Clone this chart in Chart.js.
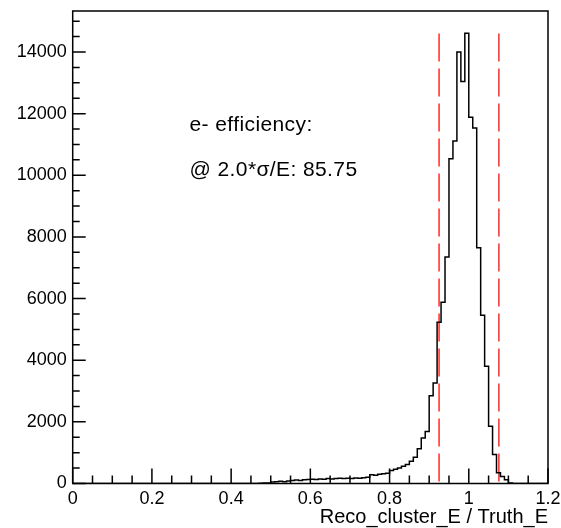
<!DOCTYPE html>
<html>
<head>
<meta charset="utf-8">
<script src="https://cdn.jsdelivr.net/npm/chart.js@4.4.1/dist/chart.umd.min.js"></script>
<style>
  body { margin: 0; background: #fff; }
  canvas { display: block; }
</style>
</head>
<body>
<canvas id="myChart" width="561" height="528"></canvas>
<script>
// histogram: 120 bins of 0.01 from 0 to 1.2
const xMin = 0;
const xMax = 1.2;
const binWidth = 0.01;
const counts = [
  0, 0, 0, 0, 0, 0, 0, 0, 0, 0,          // 0.00 - 0.10
  0, 0, 0, 0, 0, 0, 0, 0, 0, 0,          // 0.10 - 0.20
  0, 0, 0, 0, 0, 0, 0, 0, 0, 0,          // 0.20 - 0.30
  0, 0, 0, 0, 0, 0, 0, 0, 0, 0,          // 0.30 - 0.40
  0, 0, 0, 0, 0, 0, 0, 5, 15, 20,        // 0.40 - 0.50
  50, 60, 70, 60, 80, 100, 110, 100, 120, 130,       // 0.50 - 0.60
  140, 130, 150, 140, 160, 150, 160, 170, 160, 170,  // 0.60 - 0.70
  160, 180, 170, 190, 200, 280, 270, 300, 320, 330,  // 0.70 - 0.80
  420, 460, 500, 560, 620, 720, 850, 1130, 1480, 1690,        // 0.80 - 0.90
  2850, 3264, 5229, 5877, 7350, 10535, 11110, 14003, 13040, 14610, // 0.90 - 1.00
  11886, 11530, 7650, 5455, 3802, 1857, 940, 350, 230, 120,   // 1.00 - 1.10
  20, 0, 0, 0, 0, 0, 0, 0, 0, 0          // 1.10 - 1.20
];

const yMax = 15330;
const yTickValues = [0, 2000, 4000, 6000, 8000, 10000, 12000, 14000];
const xTickValues = [0, 0.2, 0.4, 0.6, 0.8, 1, 1.2];

// efficiency window (red dashed lines)
const effLow = 0.925;
const effHigh = 1.076;
const effTop = 14600;

const infoLines = ['e- efficiency:', '@ 2.0*\u03c3/E: 85.75'];
const xTitle = 'Reco_cluster_E / Truth_E';

const FONT = '"Liberation Sans", Arial, Helvetica, sans-serif';

// punti per la linea a gradini: ogni punto = bordo sinistro del bin
const histPoints = counts.map((c, i) => ({ x: xMin + i * binWidth, y: c }));
histPoints.push({ x: xMax, y: counts[counts.length - 1] });

// disegna cornice, tacche interne e testo
const frameTicks = {
  id: 'frameTicks',
  afterDraw(chart) {
    const { ctx, chartArea: a, scales: { x, y } } = chart;
    ctx.save();
    ctx.strokeStyle = '#000';
    ctx.lineWidth = 1.5;
    ctx.strokeRect(a.left, a.top, a.right - a.left, a.bottom - a.top);

    ctx.beginPath();
    for (let k = 0; k <= Math.round((xMax - xMin) / 0.05); k++) {
      const px = x.getPixelForValue(xMin + k * 0.05);
      const len = (k % 4 === 0) ? 15 : 8;
      ctx.moveTo(px, a.bottom);
      ctx.lineTo(px, a.bottom - len);
    }
    for (let v = 0; v <= yMax; v += 500) {
      const py = y.getPixelForValue(v);
      const len = (v % 2000 === 0) ? 13 : 7;
      ctx.moveTo(a.left, py);
      ctx.lineTo(a.left + len, py);
    }
    ctx.stroke();

    ctx.fillStyle = '#000';
    ctx.font = '21px ' + FONT;
    ctx.letterSpacing = '0.4px';
    ctx.textAlign = 'left';
    ctx.textBaseline = 'middle';
    ctx.fillText(infoLines[0], x.getPixelForValue(0.295), y.getPixelForValue(11620));
    ctx.fillText(infoLines[1], x.getPixelForValue(0.295), y.getPixelForValue(10150));

    ctx.letterSpacing = '0px';
    ctx.font = '20px ' + FONT;
    ctx.textAlign = 'right';
    ctx.textBaseline = 'alphabetic';
    ctx.fillText(xTitle, a.right, 523);
    ctx.restore();
  }
};

const ctx = document.getElementById('myChart').getContext('2d');
const myChart = new Chart(ctx, {
  type: 'line',
  data: {
    datasets: [
      {
        data: histPoints,
        stepped: 'before',
        borderColor: '#000',
        borderWidth: 1.5,
        pointRadius: 0,
        fill: false,
        order: 1
      },
      {
        data: [{ x: effLow, y: effTop }, { x: effLow, y: 0 }],
        borderColor: '#ff2a2a',
        borderWidth: 1.5,
        borderDash: [28, 7],
        pointRadius: 0,
        order: 2
      },
      {
        data: [{ x: effHigh, y: effTop }, { x: effHigh, y: 0 }],
        borderColor: '#ff2a2a',
        borderWidth: 1.5,
        borderDash: [28, 7],
        pointRadius: 0,
        order: 2
      }
    ]
  },
  options: {
    responsive: false,
    animation: false,
    layout: { padding: { left: 0, top: 11, right: 13, bottom: 0 } },
    plugins: {
      legend: { display: false },
      tooltip: { enabled: false }
    },
    scales: {
      x: {
        type: 'linear',
        min: xMin,
        max: xMax,
        afterBuildTicks: s => { s.ticks = xTickValues.map(v => ({ value: v })); },
        afterFit: s => { s.height = 44.5; s.paddingLeft = 0; s.paddingRight = 0; },
        grid: { display: false, drawTicks: false },
        border: { display: false },
        ticks: {
          padding: 5,
          color: '#000',
          font: { family: FONT, size: 18 },
          maxRotation: 0,
          autoSkip: false,
          callback: v => String(Number(v.toFixed(1)))
        }
      },
      y: {
        min: 0,
        max: yMax,
        afterBuildTicks: s => { s.ticks = yTickValues.map(v => ({ value: v })); },
        afterFit: s => { s.width = 72.7; s.paddingTop = 0; s.paddingBottom = 0; },
        grid: { display: false, drawTicks: false },
        border: { display: false },
        ticks: {
          padding: 6,
          color: '#000',
          font: { family: FONT, size: 18 },
          autoSkip: false,
          callback: v => String(v)
        }
      }
    }
  },
  plugins: [frameTicks]
});
</script>
</body>
</html>
